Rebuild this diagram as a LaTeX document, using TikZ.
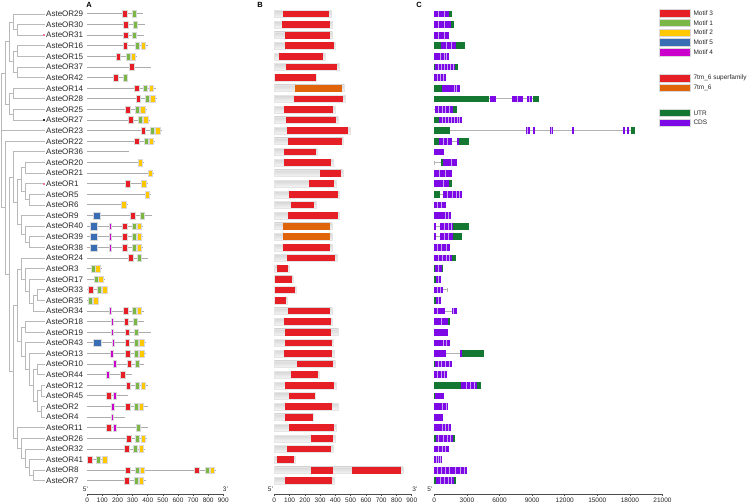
\documentclass[tikz,border=0pt]{standalone}
\usepackage{fontspec}
\setmainfont{Liberation Sans}
\definecolor{cR}{RGB}{230,30,38}
\definecolor{cG}{RGB}{122,183,70}
\definecolor{cY}{RGB}{255,200,0}
\definecolor{cB}{RGB}{58,110,180}
\definecolor{cM}{RGB}{204,0,204}
\definecolor{cO}{RGB}{224,100,10}
\definecolor{cUTR}{RGB}{20,120,50}
\definecolor{cCDS}{RGB}{125,10,230}
\definecolor{cStripe}{RGB}{200,162,240}
\definecolor{cPink}{RGB}{240,120,150}
\newcommand\ry[1]{14+10.61*#1}
\begin{document}
\begin{tikzpicture}[x=1pt,y=-1pt,
  tree/.style={draw=gray!55, line width=0.9pt},
  lab/.style={anchor=west, inner sep=0pt, font=\fontsize{8}{9}\selectfont, text=black!85},
  aline/.style={draw=gray!65, line width=1pt},
  mR/.style={fill=cR, draw=gray!30, line width=0.5pt},
  mG/.style={fill=cG, draw=gray!30, line width=0.5pt},
  mY/.style={fill=cY, draw=gray!30, line width=0.5pt},
  mB/.style={fill=cB, draw=gray!30, line width=0.5pt},
  mM/.style={fill=cM, draw=gray!30, line width=0.5pt},
  gbar/.style={top color=gray!32, bottom color=gray!8, draw=gray!20, line width=0.4pt},
  intron/.style={draw=gray!60, line width=0.8pt},
  stripe/.style={draw=cStripe, line width=0.8pt},
  axisline/.style={draw=gray!60!black, line width=0.6pt},
  num/.style={font=\fontsize{6.5}{7}\selectfont, inner sep=0pt, text=black!85},
  plabel/.style={font=\bfseries\fontsize{7.5}{8}\selectfont, inner sep=0pt},
  legbox/.style={draw=gray!30, line width=0.5pt},
  legtext/.style={anchor=west, inner sep=0pt, font=\fontsize{6.5}{7}\selectfont, text=black!85}
]
\useasboundingbox (0,0) rectangle (750,503);

% ---------------- tree ----------------
\foreach \i in {0,...,44} \coordinate (L\i) at (45,{\ry{\i}});
\coordinate (root) at (1.3,{\ry{11}});
\coordinate (nU) at (5.3,{\ry{5.5625}});
\coordinate (nU1) at (9.3,{\ry{2.625}});
\coordinate (n29) at (13.3,{\ry{0.75}});
\coordinate (n3031) at (17.3,{\ry{1.5}});
\coordinate (n16) at (13.3,{\ry{4.5}});
\coordinate (n1615) at (17.3,{\ry{3.5}});
\coordinate (n3742) at (17.3,{\ry{5.5}});
\coordinate (nU2) at (9.3,{\ry{8.5}});
\coordinate (n1428) at (13.3,{\ry{7.5}});
\coordinate (n2527) at (13.3,{\ry{9.5}});
\coordinate (nL) at (5.3,{\ry{18.27}});
\coordinate (nR) at (9.3,{\ry{24.54}});
\coordinate (nA) at (13.3,{\ry{15.375}});
\coordinate (nCA) at (17.3,{\ry{17.75}});
\coordinate (nC20) at (21.3,{\ry{15.625}});
\coordinate (n2021) at (25.3,{\ry{14.5}});
\coordinate (n156) at (25.3,{\ry{16.75}});
\coordinate (n56) at (29.3,{\ry{17.5}});
\coordinate (nA9) at (21.3,{\ry{19.875}});
\coordinate (n40) at (25.3,{\ry{20.75}});
\coordinate (n3938) at (29.3,{\ry{21.5}});
\coordinate (nB) at (13.3,{\ry{33.71}});
\coordinate (nB1) at (17.3,{\ry{27.45}});
\coordinate (nB24) at (21.3,{\ry{24.03}});
\coordinate (n3) at (25.3,{\ry{25.0625}});
\coordinate (n17) at (29.3,{\ry{26.125}});
\coordinate (n34) at (33.3,{\ry{27.25}});
\coordinate (n3335) at (37.3,{\ry{26.5}});
\coordinate (nB18) at (21.3,{\ry{30.875}});
\coordinate (n1819) at (25.3,{\ry{29.5}});
\coordinate (n43) at (25.3,{\ry{32.25}});
\coordinate (n13) at (29.3,{\ry{33.5}});
\coordinate (nX) at (33.3,{\ry{35}});
\coordinate (n1044) at (37.3,{\ry{33.5}});
\coordinate (n122) at (37.3,{\ry{36.5}});
\coordinate (n1245) at (41.3,{\ry{35.5}});
\coordinate (n24) at (41.3,{\ry{37.5}});
\coordinate (nB11) at (17.3,{\ry{39.97}});
\coordinate (n26) at (21.3,{\ry{40.94}});
\coordinate (n32) at (25.3,{\ry{41.875}});
\coordinate (n41) at (29.3,{\ry{42.75}});
\coordinate (n87) at (33.3,{\ry{43.5}});
\foreach \p/\c in {root/nU, root/L11, root/nL,
  nU/nU1, nU/nU2, nU1/n29, nU1/n16, n29/L0, n29/n3031, n3031/L1, n3031/L2,
  n16/n1615, n16/n3742, n1615/L3, n1615/L4, n3742/L5, n3742/L6,
  nU2/n1428, nU2/n2527, n1428/L7, n1428/L8, n2527/L9, n2527/L10,
  nL/L12, nL/nR, nR/nA, nR/nB, nA/L13, nA/nCA, nCA/nC20, nCA/nA9,
  nC20/n2021, nC20/n156, n2021/L14, n2021/L15, n156/L16, n156/n56, n56/L17, n56/L18,
  nA9/L19, nA9/n40, n40/L20, n40/n3938, n3938/L21, n3938/L22,
  nB/nB1, nB/nB11, nB1/nB24, nB1/nB18, nB24/L23, nB24/n3, n3/L24, n3/n17,
  n17/L25, n17/n34, n34/n3335, n34/L28, n3335/L26, n3335/L27,
  nB18/n1819, nB18/n43, n1819/L29, n1819/L30, n43/L31, n43/n13, n13/L32, n13/nX,
  nX/n1044, nX/n122, n1044/L33, n1044/L34, n122/n1245, n122/n24,
  n1245/L35, n1245/L36, n24/L37, n24/L38,
  nB11/L39, nB11/n26, n26/L40, n26/n32, n32/L41, n32/n41, n41/L42, n41/n87, n87/L43, n87/L44}
  \draw[tree] (\p) |- (\c);
\fill[cPink] (42.7,{\ry{2}-1}) rectangle (44.7,{\ry{2}+1});
\fill[cPink] (42.7,{\ry{16}-1}) rectangle (44.7,{\ry{16}+1});
\fill[black!80] (43.2,{\ry{10}-1}) rectangle (44.7,{\ry{10}+1});

% ---------------- labels ----------------
\foreach \i/\t in {0/29,1/30,2/31,3/16,4/15,5/37,6/42,7/14,8/28,9/25,10/27,11/23,12/22,13/36,14/20,15/21,16/1,17/5,18/6,19/9,20/40,21/39,22/38,23/24,24/3,25/17,26/33,27/35,28/34,29/18,30/19,31/43,32/13,33/10,34/44,35/12,36/45,37/2,38/4,39/11,40/26,41/32,42/41,43/8,44/7}
  \node[lab] (lab\i) at (46,{\ry{\i}}) {AsteOR\t};

% ---------------- panel A ----------------
\node[plabel] (pA) at (89,5) {A};
\foreach \r/\e in {0/143.3,1/145,2/144.3,3/147.7,4/137.3,5/150.7,6/128.3,7/156,8/157.3,9/147,10/150,11/161.7,12/155.3,13/129,14/144.3,15/154.3,16/148.3,17/151.3,18/127.7,19/151.7,20/143.3,21/143.3,22/143.3,23/148.3,24/101.7,25/105.3,26/108.3,27/99.3,28/143.7,29/143.7,30/150.7,31/145.7,32/145.7,33/144,34/131.7,35/147.7,36/127.7,37/148.3,38/125,39/147.7,40/146.7,41/145,42/107.3,43/215.5,44/145.7}
  \draw[aline] (87.3,{\ry{\r}}) -- (\e,{\ry{\r}});
\foreach \x/\r in {125/0,125.7/1,125.7/2,125.3/3,118.3/4,131.7/5,115.7/6,136.7/7,138.3/8,128/9,131/10,143.3/11,137/12,127.7/16,133/19,125/20,125/21,125/22,130.7/23,90.7/26,125.7/28,126.3/29,127.3/30,127.3/31,127.7/32,129.3/33,122.7/34,128.3/35,109/36,127.7/37,109/39,128.7/40,126.7/41,89.6/42,127.7/43,197/43,126.7/44}
  \draw[mR] ({\x-2.35},{\ry{\r}-3.4}) rectangle ({\x+2.35},{\ry{\r}+3.4});
\foreach \x/\r in {134/0,135/1,134.7/2,137.7/3,128/4,125/6,145.7/7,147/8,137.7/9,140.3/10,152.3/11,146/12,142/19,134/20,134/21,134/22,139.7/23,93/24,96/25,99.3/26,90/27,134/28,135/29,136/30,136/31,136.7/32,137.7/33,137.7/35,136.3/37,138.3/39,137.7/40,135.3/41,98/42,137/43,207/43,136.3/44}
  \draw[mG] ({\x-2},{\ry{\r}-3.4}) rectangle ({\x+2},{\ry{\r}+3.4});
\foreach \x/\r in {143/3,133/4,151/7,152.7/8,142.7/9,145.7/10,157.7/11,151.3/12,140.3/14,150.3/15,143.7/16,147/17,123.7/18,139.3/20,139.3/21,139.3/22,97.7/24,100.7/25,104.7/26,95.7/27,139.3/28,141.7/31,141.7/32,143/35,141.3/37,143/40,141/41,104.7/42,142.3/43,212.3/43,141.3/44}
  \draw[mY] ({\x-2.15},{\ry{\r}-3.4}) rectangle ({\x+2.15},{\ry{\r}+3.4});
\foreach \x/\r in {96.7/19,94/20,94/21,94/22,97.3/31}
  \draw[mB] ({\x-3.65},{\ry{\r}-3.65}) rectangle ({\x+3.65},{\ry{\r}+3.65});
\foreach \x/\r in {110.3/20,110.3/21,110.3/22,110.3/28,112.3/29,112.3/30,113.3/31,112/32,114.7/33,107.7/34,114.7/36,112.7/37,112.3/38,114.7/39}
  \draw[mM] ({\x-1.35},{\ry{\r}-3.4}) rectangle ({\x+1.35},{\ry{\r}+3.4});
% axis A
\draw[axisline] (87.3,494) -- (223.3,494);
\foreach \k/\t in {0/0,1/100,2/200,3/300,4/400,5/500,6/600,7/700,8/800,9/900} {
  \draw[axisline] ({87.3+15.11*\k},494) -- ++(0,2);
  \node[num] at ({87.3+15.11*\k},500) {\t};
}
\node[num] (a5) at (85.5,489) {5'};
\node[num] (a3) at (225.5,489) {3'};

% ---------------- panel B ----------------
\node[plabel] (pB) at (260,5) {B};
\foreach \r/\e in {0/331.3,1/332.3,2/332.3,3/335.3,4/325.3,5/338.7,6/316.5,7/344.3,8/345.3,9/334.7,10/338,11/350,12/343.3,13/316.7,14/332.7,15/342.7,16/336.3,17/339.3,18/315.7,19/339.3,20/331.7,21/331.7,22/331.7,23/336.7,24/289.3,25/292.7,26/296.3,27/287,28/331.7,29/332,30/338.3,31/333.3,32/334,33/335.3,34/319.3,35/336,36/315.5,37/337.7,38/313.5,39/336,40/334.7,41/332.7,42/295.3,43/402.7,44/333.7}
  \draw[gbar] (274.3,{\ry{\r}-3.35}) rectangle (\e,{\ry{\r}+3.35});
\foreach \r/\a/\b in {0/283.3/329.3,1/282/330.3,2/285.3/330,3/285.3/333.7,4/278.7/323.3,5/285.7/337,6/274.8/316,8/294.3/342.7,9/284/333,10/285.7/336,11/287.3/347.7,12/287.7/342,13/284.3/316,14/284.3/331.3,15/320/341,16/309/334.3,17/289/337.7,18/291.3/314.3,19/288.3/338,22/282.7/330,23/286.7/335,24/277.3/287.7,25/274.8/291.7,26/274.8/295,27/274.8/286,28/287.7/330,29/284.3/330.7,30/285.3/330.7,31/285.3/332.3,32/284/332.3,33/297.3/333.3,34/291/317.7,35/285/333.7,36/289/315,37/285/332,38/285/313.3,39/289/333.7,40/310.7/333,41/286.7/331,42/277/294.3,43/311/332.7,43/351.7/401.3,44/285/332.3}
  \fill[cR] (\a,{\ry{\r}-3.35}) rectangle (\b,{\ry{\r}+3.35});
\foreach \r/\a/\b in {7/295.3/341.7,20/282.7/330,21/282.7/330}
  \fill[cO] (\a,{\ry{\r}-3.35}) rectangle (\b,{\ry{\r}+3.35});
% axis B
\draw[axisline] (274.3,494) -- (411.7,494);
\foreach \k/\t in {0/0,1/100,2/200,3/300,4/400,5/500,6/600,7/700,8/800,9/900} {
  \draw[axisline] ({274.3+15.27*\k},494) -- ++(0,2);
  \node[num] at ({274.3+15.27*\k},500) {\t};
}
\node[num] (b5) at (270.5,489) {5'};
\node[num] (b3) at (415,489) {3'};

% ---------------- panel C ----------------
\node[plabel] (pC) at (419,5) {C};
\foreach \r/\a/\b in {8/489.3/539.3,9/434/435.3,11/449.7/630.7,12/451.7/456.7,14/434/440.7,17/440/443.3,20/436/439.5,21/436/439.5,26/443.3/447.7,28/445/451.7,32/446/460}
  \draw[intron] (\a,{\ry{\r}}) -- (\b,{\ry{\r}});
\draw[intron] (447.7,{\ry{26}-2}) -- (447.7,{\ry{26}+2});
\draw[intron] (434,{\ry{14}-2}) -- (434,{\ry{14}+2});
\foreach \r/\a/\b in {0/434/449.3,1/434/450.7,2/434/448.7,3/440.7/456,4/434/448.7,5/435.3/455.3,6/434/446,7/442/460,8/490/496,8/511.7/523.3,8/527.3/531.7,9/435.3/453.3,10/438.7/461.7,11/525.7/530,11/532.7/535,11/549.7/553.3,11/571.7/573.7,11/623.3/625,11/626.5/629.3,12/439.3/451.7,12/456.7/459.3,13/434/444,14/442.7/457.3,15/434/451.7,16/434/449,17/443.3/461.7,18/434/445.7,19/434/451,20/434/436,20/439.5/453.3,21/434/436,21/439.5/452.7,22/434/450,23/434/451.7,24/435.3/441.7,25/435.5/440.7,26/434/443.3,27/435.5/440.7,28/434/445,28/451.7/456.7,29/434/448.3,30/434/447.7,31/434/450,32/434/446,32/460/462.3,33/435.3/451.7,34/434/446.7,35/460.7/476.7,36/435.3/444.3,37/434/448.3,38/434/442.7,39/434/450.7,40/436/453.3,41/434/448.7,42/434/441.7,43/434/467.3,44/436/454}
  \fill[cCDS] (\a,{\ry{\r}-3.35}) rectangle (\b,{\ry{\r}+3.35});
\foreach \r/\a/\b in {0/449.3/452,1/450.7/454,3/434/440.7,3/456/464.7,5/434/435.3,5/455.3/457.7,7/434/442,8/434/489.3,8/532.7/539.3,9/453.3/456.7,10/434/438.7,11/434/449.7,11/630.7/635.3,12/434/439.3,12/459.3/469.3,14/440.7/442.7,16/449/451.7,17/434/440,20/453.3/469.3,21/452.7/461.7,23/451.7/456,24/434/435.3,24/441.7/443.3,25/434/435.5,27/434/435.5,29/448.3/450,32/462.3/484,33/434/435.3,35/434/460.7,35/476.7/481,36/434/435.3,40/434/436,40/453.3/455.3,44/434/436,44/454/456}
  \fill[cUTR] (\a,{\ry{\r}-3.35}) rectangle (\b,{\ry{\r}+3.35});
\foreach \r/\x in {0/438.3,0/444,1/438.7,1/444.3,2/438.3,2/444,3/446.7,3/451.7,4/440.7,4/444,4/446.7,5/438,5/441,5/444,5/447,5/450,5/453,6/437.5,6/440.5,6/443.5,7/454,7/456.7,8/517,8/529.5,9/438.5,9/442,9/445.5,9/449,10/442,10/445,10/448,10/451,10/454,10/457,10/459.5,11/527.8,11/551.5,12/443,12/447,14/451,15/439,15/445,16/443,17/447,17/452,17/456,17/459,18/437.5,18/441,19/445,19/448,20/444,20/448,20/451,21/444,21/448,22/437.5,22/441.5,22/446,23/438,23/442,23/446,23/449,24/438,25/438,26/437,26/440,27/438.5,28/437.5,28/453.5,29/441,31/443,31/446.5,33/438,33/441,33/445,33/449,34/437.5,34/441.5,34/444,35/466,35/470,35/474,37/442.5,37/446,39/442,39/445.5,39/448.5,40/438.5,40/443,40/447,40/450,41/438.5,41/442.5,41/445.5,42/436,42/438,42/440,43/437,43/441,43/445.5,43/449,43/455,43/460,43/464,44/440,44/444,44/448,44/451}
  \draw[stripe] (\x,{\ry{\r}-3.35}) -- (\x,{\ry{\r}+3.35});
% axis C
\draw[axisline] (434.3,494) -- (662.5,494);
\foreach \k/\t in {0/0,1/3000,2/6000,3/9000,4/12000,5/15000,6/18000,7/21000} {
  \draw[axisline] ({434.3+32.6*\k},494) -- ++(0,2);
  \node[num] at ({434.3+32.6*\k},500) {\t};
}
\node[num] (c5) at (430,489) {5'};

% ---------------- legend ----------------
\foreach \c/\y/\t in {cR/13.3/Motif 3, cG/22.8/Motif 1, cY/32.6/Motif 2, cB/42.4/Motif 5, cM/52.2/Motif 4, cR/78/7tm\_6 superfamily, cO/87.8/7tm\_6, cUTR/112.8/UTR, cCDS/122.6/CDS} {
  \draw[legbox, fill=\c] (659.3,{\y-3.8}) rectangle (690,{\y+3.8});
  \node[legtext] at (693.3,\y) {\t};
}
\end{tikzpicture}
\end{document}
